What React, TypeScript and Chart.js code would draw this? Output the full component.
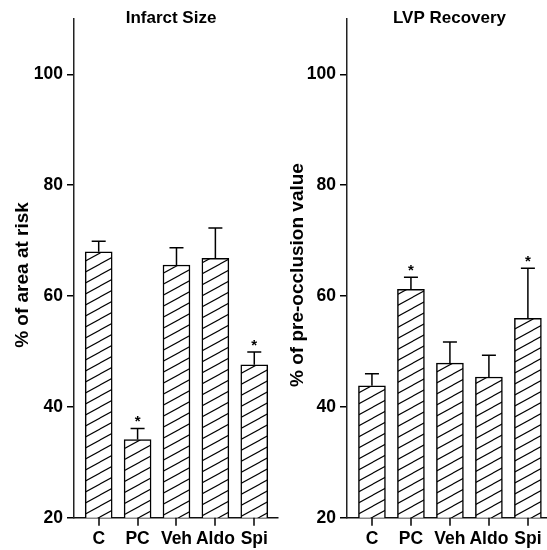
import React, { useEffect, useRef } from 'react';
import { Chart, registerables } from 'chart.js';

Chart.register(...registerables);

// ---- data ----
const categories = ['C', 'PC', 'Veh', 'Aldo', 'Spi'];
const infarctMeans = [68.0, 34.1, 65.6, 66.8, 47.6];
const infarctErrors = [1.9, 2.0, 3.1, 5.5, 2.3];
const infarctSignificant = [false, true, false, false, true];
const lvpMeans = [43.8, 61.2, 47.9, 45.4, 56.0];
const lvpErrors = [2.2, 2.2, 3.8, 3.9, 9.0];
const lvpSignificant = [false, true, false, false, true];
const yTickValues = [20, 40, 60, 80, 100];
const Y_MIN = 20;
const Y_MAX = 110;

const FONT = '"Liberation Sans", Arial, Helvetica, sans-serif';
const H = 550;
const X_TICK_LEN = 8;

function makeHatch(): CanvasPattern | string {
  const c = document.createElement('canvas');
  const w = 20;
  const h = 11;
  c.width = w;
  c.height = h;
  const g = c.getContext('2d');
  if (!g) return '#fff';
  g.fillStyle = '#fff';
  g.fillRect(0, 0, w, h);
  g.strokeStyle = '#000';
  g.lineWidth = 1.1;
  for (const [dx, dy] of [[0, 0], [-w, 0], [w, 0], [0, -h], [0, h]]) {
    g.beginPath();
    g.moveTo(dx, h + dy);
    g.lineTo(w + dx, dy);
    g.stroke();
  }
  return g.createPattern(c, 'repeat') || '#fff';
}

type PanelProps = {
  left: number;
  width: number;
  areaRight: number;
  xMin: number;
  xMax: number;
  title: string;
  titleX: number;
  yLabel: string;
  yLabelX: number;
  means: number[];
  errors: number[];
  significant: boolean[];
};

function Panel(p: PanelProps) {
  const ref = useRef<HTMLCanvasElement>(null);
  useEffect(() => {
    if (!ref.current) return;
    const hatch = makeHatch();
    const overlay = {
      id: 'overlay',
      afterDraw(chart: any) {
        const { ctx, scales, chartArea } = chart;
        const xs = scales.x;
        const ys = scales.y;
        ctx.save();
        ctx.strokeStyle = '#000';
        ctx.lineWidth = 1.5;
        // x tick marks
        categories.forEach((_, i) => {
          const xc = Math.round(xs.getPixelForValue(i));
          ctx.beginPath();
          ctx.moveTo(xc, chartArea.bottom);
          ctx.lineTo(xc, chartArea.bottom + X_TICK_LEN);
          ctx.stroke();
        });
        // error bars and significance marks
        p.means.forEach((m, i) => {
          const xc = xs.getPixelForValue(i);
          const yb = ys.getPixelForValue(m);
          const yt = ys.getPixelForValue(m + p.errors[i]);
          ctx.beginPath();
          ctx.moveTo(xc, yb);
          ctx.lineTo(xc, yt);
          ctx.moveTo(xc - 7, yt);
          ctx.lineTo(xc + 7, yt);
          ctx.stroke();
          if (p.significant[i]) {
            ctx.fillStyle = '#000';
            ctx.font = `bold 15px ${FONT}`;
            ctx.textAlign = 'center';
            ctx.textBaseline = 'alphabetic';
            ctx.fillText('*', xc, yt - 2);
          }
        });
        // title and y-axis label
        ctx.fillStyle = '#000';
        ctx.font = `bold 17px ${FONT}`;
        ctx.textAlign = 'center';
        ctx.textBaseline = 'alphabetic';
        ctx.fillText(p.title, p.titleX, 22.5);
        ctx.translate(p.yLabelX, 275);
        ctx.rotate(-Math.PI / 2);
        ctx.font = `bold 19px ${FONT}`;
        ctx.fillText(p.yLabel, 0, 0);
        ctx.restore();
      },
    };
    const chart = new Chart(ref.current, {
      type: 'bar',
      data: {
        datasets: [
          {
            data: p.means.map((m, i) => ({ x: i, y: m })),
            backgroundColor: hatch as any,
            borderColor: '#000',
            borderWidth: 1.5,
            barThickness: 27,
            borderSkipped: 'start',
          } as any,
        ],
      },
      options: {
        responsive: false,
        animation: false,
        devicePixelRatio: 1,
        layout: { padding: { left: 0, top: 19, right: p.width - p.areaRight, bottom: 0 } },
        plugins: {
          legend: { display: false },
          tooltip: { enabled: false },
          title: { display: false },
        },
        scales: {
          x: {
            type: 'linear',
            min: p.xMin,
            max: p.xMax,
            offset: false,
            afterBuildTicks: (s: any) => {
              s.ticks = categories.map((_, i) => ({ value: i }));
            },
            afterFit: (s: any) => {
              s.height = H - 517.7;
            },
            grid: {
              display: true,
              offset: false,
              drawOnChartArea: false,
              drawTicks: true,
              tickLength: X_TICK_LEN,
              color: 'rgba(0,0,0,0)',
              lineWidth: 1.5,
            },
            border: { display: true, color: '#111', width: 1.5 },
            ticks: {
              color: '#000',
              font: { family: FONT, size: 17.5, weight: 'bold' },
              padding: 3,
              autoSkip: false,
              maxRotation: 0,
              callback: (v: any) => categories[Math.round(Number(v))] ?? '',
            },
          },
          y: {
            type: 'linear',
            min: Y_MIN,
            max: Y_MAX,
            afterBuildTicks: (s: any) => {
              s.ticks = yTickValues.map((v) => ({ value: v }));
            },
            afterFit: (s: any) => {
              s.width = 74;
            },
            grid: {
              display: true,
              drawOnChartArea: false,
              drawTicks: true,
              tickLength: 7,
              color: '#000',
              lineWidth: 1.5,
            },
            border: { display: true, color: '#222', width: 1.5 },
            ticks: {
              color: '#000',
              font: { family: FONT, size: 17.5, weight: 'bold' },
              padding: 4,
            },
          },
        },
      } as any,
      plugins: [overlay],
    });
    return () => chart.destroy();
  }, []);
  return (
    <canvas
      ref={ref}
      width={p.width}
      height={H}
      style={{ position: 'absolute', left: p.left, top: 0, width: p.width, height: H }}
    />
  );
}

export default function App() {
  return (
    <div style={{ position: 'fixed', left: 0, top: 0, width: 547, height: 550, background: '#fff' }}>
      <Panel
        left={0}
        width={290}
        areaRight={278}
        xMin={-0.635}
        xMax={4.61}
        title="Infarct Size"
        titleX={171}
        yLabel="% of area at risk"
        yLabelX={28.3}
        means={infarctMeans}
        errors={infarctErrors}
        significant={infarctSignificant}
      />
      <Panel
        left={273}
        width={274}
        areaRight={274}
        xMin={-0.64}
        xMax={4.49}
        title="LVP Recovery"
        titleX={176.5}
        yLabel="% of pre-occlusion value"
        yLabelX={30.3}
        means={lvpMeans}
        errors={lvpErrors}
        significant={lvpSignificant}
      />
    </div>
  );
}
